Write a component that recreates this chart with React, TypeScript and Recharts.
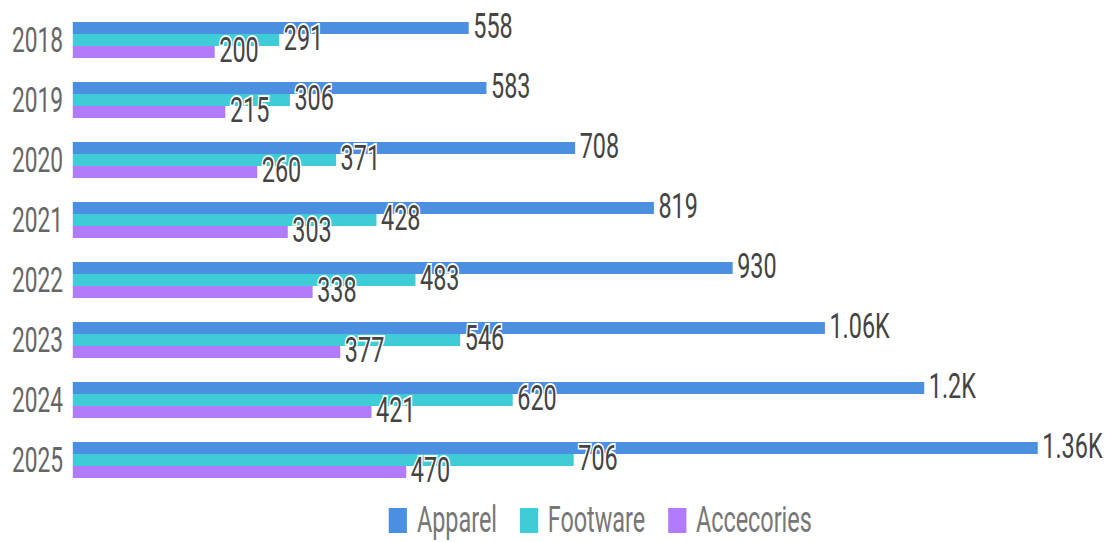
import React from 'react';
import { BarChart, Bar, XAxis, YAxis, LabelList } from 'recharts';

const categories = ['2018', '2019', '2020', '2021', '2022', '2023', '2024', '2025'];
const apparel = [558, 583, 708, 819, 930, 1060, 1200, 1360];
const footware = [291, 306, 371, 428, 483, 546, 620, 706];
const accessories = [200, 215, 260, 303, 338, 377, 421, 470];

const seriesNames = ['Apparel', 'Footware', 'Accecories'];
const seriesKeys = ['apparel', 'footware', 'accessories'];
const colors = ['#4a8fe0', '#3ecdd6', '#b07cfc'];

const data = categories.map((year, i) => ({
  year,
  apparel: apparel[i],
  footware: footware[i],
  accessories: accessories[i],
}));

const S = 0.65;
const W = 1106 / S;
const FONT = 'Roboto, "DejaVu Sans", sans-serif';

const fmt = (v: number) => (v >= 1000 ? `${parseFloat((v / 1000).toFixed(2))}K` : `${v}`);

const renderLabel = (props: any) => {
  const { x, y, width, height, value } = props;
  return (
    <text
      x={x + width + 7}
      y={y + height / 2 - 3}
      dy="0.355em"
      fontSize={36}
      fontFamily={FONT}
      fill="#444"
      stroke="#fff"
      strokeWidth={4}
      paintOrder="stroke"
      textAnchor="start"
    >
      {fmt(value)}
    </text>
  );
};

export default function App() {
  return (
    <div
      style={{
        position: 'absolute',
        left: 0,
        top: 0,
        width: W,
        height: 542,
        overflow: 'hidden',
        transform: `scaleX(${S})`,
        transformOrigin: '0 0',
        background: '#fff',
      }}
    >
      <BarChart
        width={W}
        height={542}
        data={data}
        layout="vertical"
        margin={{ top: 10, right: 105, bottom: 52, left: 0 }}
        barCategoryGap="20%"
        barGap={0}
      >
        <XAxis type="number" hide domain={[0, 'dataMax']} />
        <YAxis
          type="category"
          dataKey="year"
          width={112}
          axisLine={false}
          tickLine={false}
          tickMargin={9}
          tick={{ fontSize: 35, fill: '#666', fontFamily: FONT }}
        />
        {seriesKeys.map((k, i) => (
          <Bar key={k} dataKey={k} name={seriesNames[i]} fill={colors[i]} isAnimationActive={false}>
            <LabelList dataKey={k} content={renderLabel} />
          </Bar>
        ))}
      </BarChart>
      <div
        style={{
          position: 'absolute',
          left: 389 / S,
          top: 499,
          height: 42,
          display: 'flex',
          alignItems: 'center',
          fontFamily: FONT,
          fontSize: 36,
          lineHeight: '42px',
          color: '#777',
          whiteSpace: 'nowrap',
        }}
      >
        {seriesNames.map((n, i) => (
          <div key={n} style={{ display: 'flex', alignItems: 'center', marginRight: 35 }}>
            <div style={{ width: 28, height: 25, background: colors[i], marginRight: 15 }} />
            <span>{n}</span>
          </div>
        ))}
      </div>
    </div>
  );
}
